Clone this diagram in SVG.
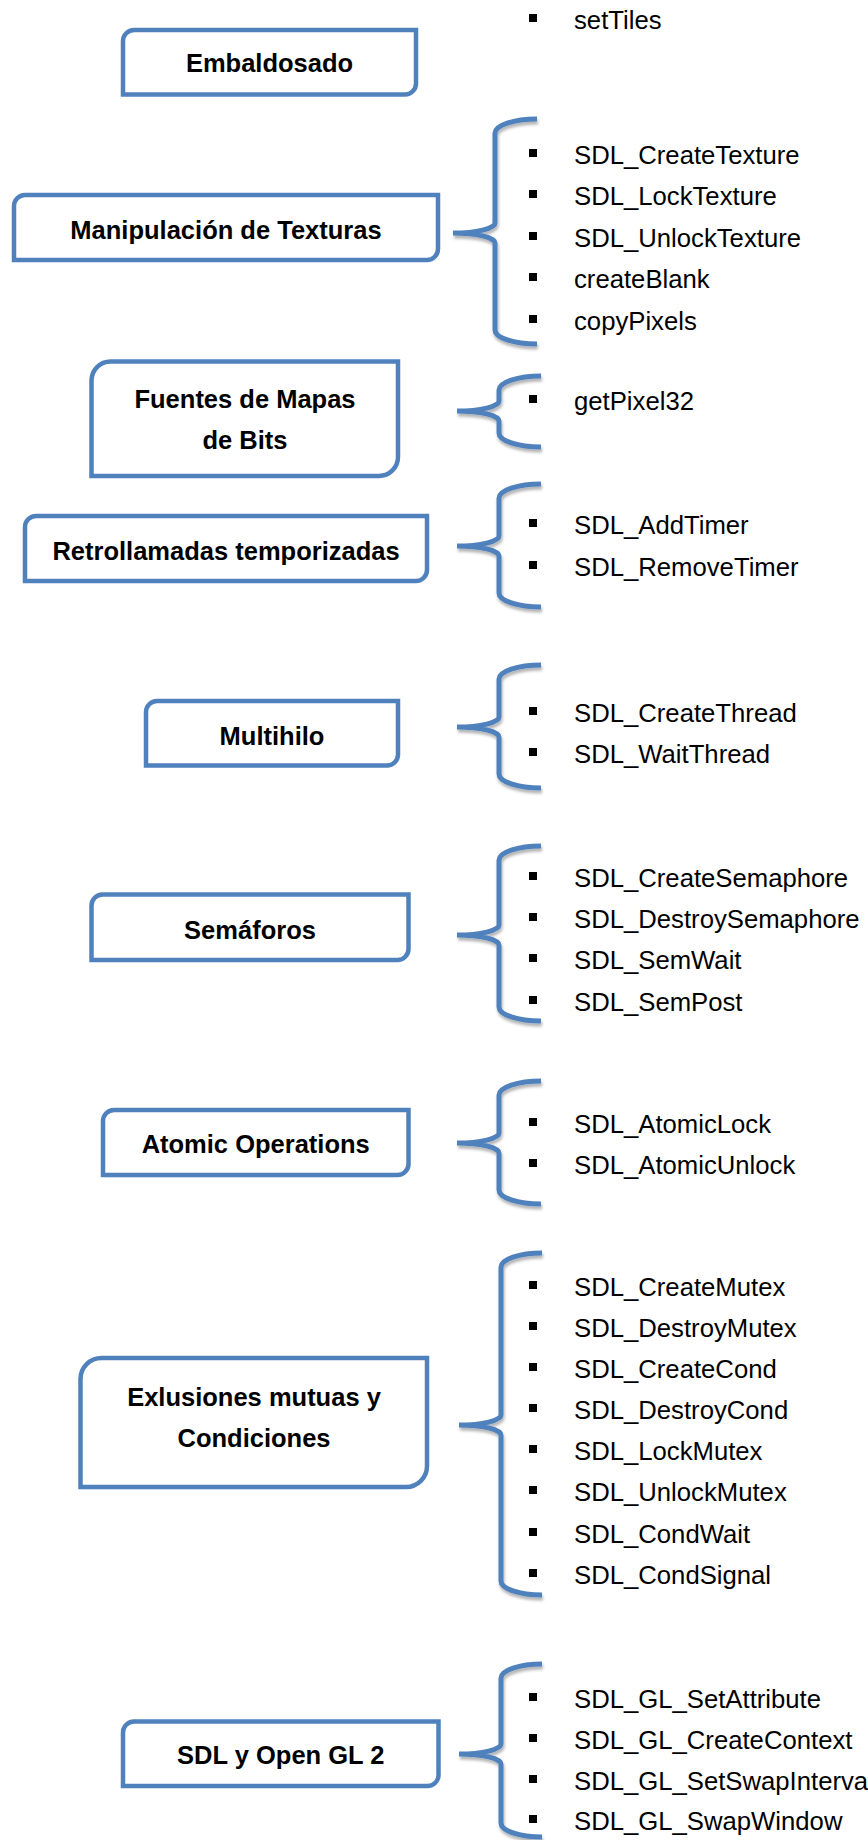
<svg xmlns="http://www.w3.org/2000/svg" xmlns:xlink="http://www.w3.org/1999/xlink" width="868" height="1840" viewBox="0 0 868 1840">
  <style>
    .box { fill: #ffffff; stroke: #4F81BD; stroke-width: 4.5; }
    .brace { fill: none; stroke: #4F81BD; stroke-width: 5; filter: url(#braceShadow); }
    .label { font-family: "Liberation Sans", Arial, sans-serif; font-size: 25.5px; font-weight: bold; fill: #000; text-anchor: middle; }
    .item { font-family: "Liberation Sans", Arial, sans-serif; font-size: 25.7px; fill: #000; }
  </style>
  <defs>
    <filter id="braceShadow" x="-20%" y="-10%" width="150%" height="130%">
      <feDropShadow dx="1" dy="3" stdDeviation="1.5" flood-color="#000" flood-opacity="0.3"/>
    </filter>
    <rect id="bullet" width="8" height="8" fill="#000"/>
  </defs>

  <rect width="868" height="1840" fill="#ffffff"/>

  <!-- braces linking each topic to its function list -->
  <g id="connectors">
    <path class="brace" d="M537,119 A42,14 0 0 0 495,133 V223 A42,10 0 0 1 453,233 A42,10 0 0 1 495,243 V330 A42,14 0 0 0 537,344"/>
    <path class="brace" d="M541,376 A42,14 0 0 0 499,390 V401 A42,10 0 0 1 457,411 A42,10 0 0 1 499,421 V433 A42,14 0 0 0 541,447"/>
    <path class="brace" d="M541,484 A42,14 0 0 0 499,498 V536 A42,10 0 0 1 457,546 A42,10 0 0 1 499,556 V593 A42,14 0 0 0 541,607"/>
    <path class="brace" d="M541,665 A42,14 0 0 0 499,679 V717 A42,10 0 0 1 457,727 A42,10 0 0 1 499,737 V774 A42,14 0 0 0 541,788"/>
    <path class="brace" d="M541,846 A42,14 0 0 0 499,860 V925 A42,10 0 0 1 457,935 A42,10 0 0 1 499,945 V1007 A42,14 0 0 0 541,1021"/>
    <path class="brace" d="M541,1081 A42,14 0 0 0 499,1095 V1133 A42,10 0 0 1 457,1143 A42,10 0 0 1 499,1153 V1190 A42,14 0 0 0 541,1204"/>
    <path class="brace" d="M542,1253 A41,14 0 0 0 501,1267 V1415 A42,10 0 0 1 459,1425 A42,10 0 0 1 501,1435 V1581 A41,14 0 0 0 542,1595"/>
    <path class="brace" d="M542,1664 A41,14 0 0 0 501,1678 V1744 A42,10 0 0 1 459,1754 A42,10 0 0 1 501,1764 V1823 A41,14 0 0 0 542,1837"/>
  </g>

  <g id="node-embaldosado">
    <path class="box" d="M134,30 H416 V83.5 A11,11 0 0 1 405,94.5 H123 V41 A11,11 0 0 1 134,30 Z"/>
    <text class="label" x="269.5" y="72">Embaldosado</text>
    <use xlink:href="#bullet" x="529" y="14"/>
    <text class="item" x="574" y="29">setTiles</text>
  </g>

  <g id="node-texturas">
    <path class="box" d="M25,195 H438 V249 A11,11 0 0 1 427,260 H14 V206 A11,11 0 0 1 25,195 Z"/>
    <text class="label" x="226" y="239">Manipulación de Texturas</text>
    <use xlink:href="#bullet" x="529" y="149"/>
    <text class="item" x="574" y="164">SDL_CreateTexture</text>
    <use xlink:href="#bullet" x="529" y="190"/>
    <text class="item" x="574" y="205">SDL_LockTexture</text>
    <use xlink:href="#bullet" x="529" y="232"/>
    <text class="item" x="574" y="247">SDL_UnlockTexture</text>
    <use xlink:href="#bullet" x="529" y="273"/>
    <text class="item" x="574" y="288">createBlank</text>
    <use xlink:href="#bullet" x="529" y="315"/>
    <text class="item" x="574" y="330">copyPixels</text>
  </g>

  <g id="node-fuentes">
    <path class="box" d="M110.5,361.5 H398 V457 A19,19 0 0 1 379,476 H91.5 V380.5 A19,19 0 0 1 110.5,361.5 Z"/>
    <text class="label" x="245" y="408">Fuentes de Mapas</text>
    <text class="label" x="245" y="449">de Bits</text>
    <use xlink:href="#bullet" x="529" y="395"/>
    <text class="item" x="574" y="410">getPixel32</text>
  </g>

  <g id="node-retrollamadas">
    <path class="box" d="M36,516 H427 V570 A11,11 0 0 1 416,581 H25 V527 A11,11 0 0 1 36,516 Z"/>
    <text class="label" x="226" y="560">Retrollamadas temporizadas</text>
    <use xlink:href="#bullet" x="529" y="519"/>
    <text class="item" x="574" y="534">SDL_AddTimer</text>
    <use xlink:href="#bullet" x="529" y="561"/>
    <text class="item" x="574" y="576">SDL_RemoveTimer</text>
  </g>

  <g id="node-multihilo">
    <path class="box" d="M157,701 H398 V754.5 A11,11 0 0 1 387,765.5 H146 V712 A11,11 0 0 1 157,701 Z"/>
    <text class="label" x="272" y="745">Multihilo</text>
    <use xlink:href="#bullet" x="529" y="707"/>
    <text class="item" x="574" y="722">SDL_CreateThread</text>
    <use xlink:href="#bullet" x="529" y="748"/>
    <text class="item" x="574" y="763">SDL_WaitThread</text>
  </g>

  <g id="node-semaforos">
    <path class="box" d="M102.5,894.5 H408.5 V949 A11,11 0 0 1 397.5,960 H91.5 V905.5 A11,11 0 0 1 102.5,894.5 Z"/>
    <text class="label" x="250" y="939">Semáforos</text>
    <use xlink:href="#bullet" x="529" y="872"/>
    <text class="item" x="574" y="887">SDL_CreateSemaphore</text>
    <use xlink:href="#bullet" x="529" y="913"/>
    <text class="item" x="574" y="928">SDL_DestroySemaphore</text>
    <use xlink:href="#bullet" x="529" y="954"/>
    <text class="item" x="574" y="969">SDL_SemWait</text>
    <use xlink:href="#bullet" x="529" y="996"/>
    <text class="item" x="574" y="1011">SDL_SemPost</text>
  </g>

  <g id="node-atomic">
    <path class="box" d="M114,1110 H408.5 V1164 A11,11 0 0 1 397.5,1175 H103 V1121 A11,11 0 0 1 114,1110 Z"/>
    <text class="label" x="255.7" y="1153">Atomic Operations</text>
    <use xlink:href="#bullet" x="529" y="1118"/>
    <text class="item" x="574" y="1133">SDL_AtomicLock</text>
    <use xlink:href="#bullet" x="529" y="1159"/>
    <text class="item" x="574" y="1174">SDL_AtomicUnlock</text>
  </g>

  <g id="node-exclusiones">
    <path class="box" d="M101.5,1358 H427 V1466 A21,21 0 0 1 406,1487 H80.5 V1379 A21,21 0 0 1 101.5,1358 Z"/>
    <text class="label" x="254" y="1406">Exlusiones mutuas y</text>
    <text class="label" x="254" y="1447">Condiciones</text>
    <use xlink:href="#bullet" x="529" y="1281"/>
    <text class="item" x="574" y="1296">SDL_CreateMutex</text>
    <use xlink:href="#bullet" x="529" y="1322"/>
    <text class="item" x="574" y="1337">SDL_DestroyMutex</text>
    <use xlink:href="#bullet" x="529" y="1363"/>
    <text class="item" x="574" y="1378">SDL_CreateCond</text>
    <use xlink:href="#bullet" x="529" y="1404"/>
    <text class="item" x="574" y="1419">SDL_DestroyCond</text>
    <use xlink:href="#bullet" x="529" y="1445"/>
    <text class="item" x="574" y="1460">SDL_LockMutex</text>
    <use xlink:href="#bullet" x="529" y="1486"/>
    <text class="item" x="574" y="1501">SDL_UnlockMutex</text>
    <use xlink:href="#bullet" x="529" y="1528"/>
    <text class="item" x="574" y="1543">SDL_CondWait</text>
    <use xlink:href="#bullet" x="529" y="1569"/>
    <text class="item" x="574" y="1584">SDL_CondSignal</text>
  </g>

  <g id="node-opengl">
    <path class="box" d="M134,1721.5 H438.5 V1775 A11,11 0 0 1 427.5,1786 H123 V1732.5 A11,11 0 0 1 134,1721.5 Z"/>
    <text class="label" x="280.8" y="1764">SDL y Open GL 2</text>
    <use xlink:href="#bullet" x="529" y="1693"/>
    <text class="item" x="574" y="1708">SDL_GL_SetAttribute</text>
    <use xlink:href="#bullet" x="529" y="1734"/>
    <text class="item" x="574" y="1749">SDL_GL_CreateContext</text>
    <use xlink:href="#bullet" x="529" y="1775"/>
    <text class="item" x="574" y="1790">SDL_GL_SetSwapInterva</text>
    <use xlink:href="#bullet" x="529" y="1815"/>
    <text class="item" x="574" y="1830">SDL_GL_SwapWindow</text>
  </g>
</svg>
